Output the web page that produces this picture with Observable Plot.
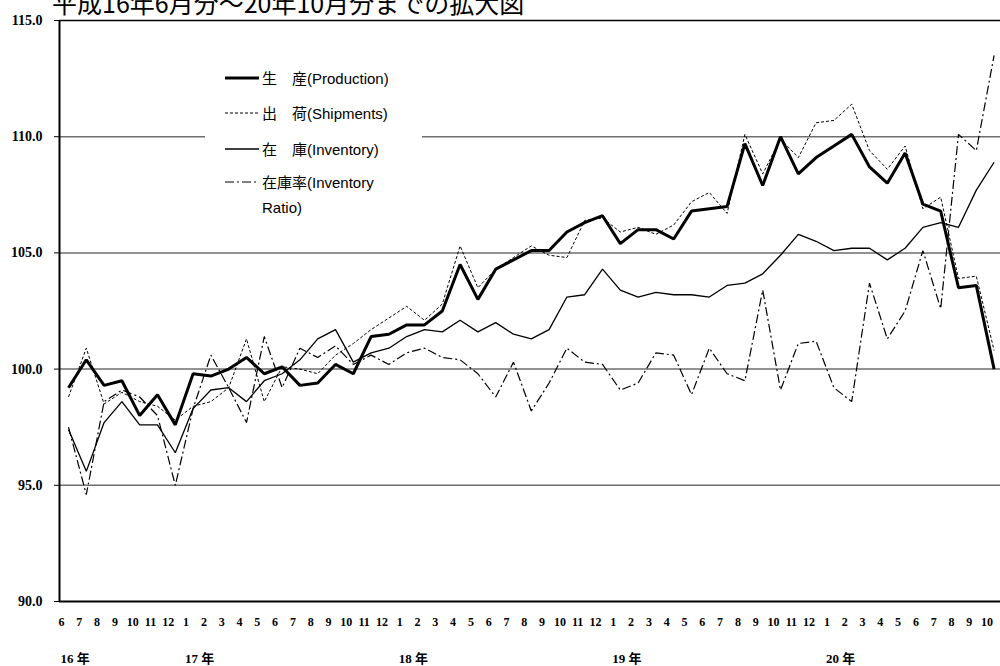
<!DOCTYPE html>
<html><head><meta charset="utf-8">
<script src="https://cdn.jsdelivr.net/npm/d3@7"></script>
<script src="https://cdn.jsdelivr.net/npm/@observablehq/plot@0.6"></script>
<style>
html,body{margin:0;padding:0;background:#fff;overflow:hidden;}
#wrap{position:relative;width:1000px;height:666px;}
#title{position:absolute;left:52px;top:-10px;font-family:"Noto Sans CJK JP";font-size:25px;line-height:1;white-space:nowrap;color:#000;z-index:2;}
</style></head><body>
<div id="wrap"><div id="title"></div></div>
<script>
const titleText = "平成16年6月分～20年10月分までの拡大図";
const yearLabels = ["16 年", "17 年", "18 年", "19 年", "20 年"];
const monthLabels = [6,7,8,9,10,11,12,
  1,2,3,4,5,6,7,8,9,10,11,12,
  1,2,3,4,5,6,7,8,9,10,11,12,
  1,2,3,4,5,6,7,8,9,10,11,12,
  1,2,3,4,5,6,7,8,9,10];
const yTicks = [90, 95, 100, 105, 110, 115];
const gridValues = [95, 100, 105, 110];

const production = [99.2,100.4,99.3,99.5,98.0,98.9,97.6,
  99.8,99.7,100.0,100.5,99.8,100.1,99.3,99.4,100.2,99.8,101.4,101.5,
  101.9,101.9,102.5,104.5,103.0,104.3,104.7,105.1,105.1,105.9,106.3,106.6,
  105.4,106.0,106.0,105.6,106.8,106.9,107.0,109.7,107.9,110.0,108.4,109.1,
  109.6,110.1,108.7,108.0,109.3,107.1,106.8,103.5,103.6,100.0];
const shipments = [98.8,100.9,98.5,99.0,98.6,98.4,97.8,
  98.4,98.6,99.2,101.3,98.6,100.1,100.0,99.8,100.6,101.1,101.7,102.2,
  102.7,102.1,102.8,105.3,103.5,104.3,104.8,105.3,104.9,104.8,106.4,106.5,
  105.9,106.1,105.8,106.2,107.2,107.6,106.7,110.1,108.4,109.9,109.1,110.6,
  110.7,111.4,109.4,108.6,109.6,106.9,107.4,103.9,104.0,100.8];
const inventory = [97.4,95.6,97.7,98.6,97.6,97.6,96.4,
  98.3,99.1,99.2,98.6,99.5,99.8,100.4,101.3,101.7,100.3,100.7,100.9,
  101.4,101.7,101.6,102.1,101.6,102.0,101.5,101.3,101.7,103.1,103.2,104.3,
  103.4,103.1,103.3,103.2,103.2,103.1,103.6,103.7,104.1,104.9,105.8,105.5,
  105.1,105.2,105.2,104.7,105.2,106.1,106.3,106.1,107.7,108.9];
const inventoryRatio = [97.5,94.6,98.6,99.1,98.8,98.0,95.0,
  98.3,100.6,99.2,97.7,101.4,99.2,100.9,100.5,101.0,100.2,100.6,100.2,
  100.7,100.9,100.5,100.4,99.8,98.8,100.3,98.2,99.4,100.9,100.3,100.2,
  99.1,99.4,100.7,100.6,98.9,100.9,99.8,99.5,103.4,99.1,101.1,101.2,
  99.2,98.6,103.7,101.3,102.5,105.1,102.6,110.1,109.4,113.5];

const seriesNames = ["生　産(Production)", "出　荷(Shipments)", "在　庫(Inventory)", "在庫率(Inventory Ratio)"];
const legendLines = [["生　産(Production)"], ["出　荷(Shipments)"], ["在　庫(Inventory)"], ["在庫率(Inventory", "Ratio)"]];
const seriesValues = [production, shipments, inventory, inventoryRatio];

// styles (kept separate from data)
const styles = [
  {strokeWidth: 3, dash: null},
  {strokeWidth: 1, dash: "3,2"},
  {strokeWidth: 1.3, dash: null},
  {strokeWidth: 1.2, dash: "9,3,2,3"}
];

document.getElementById("title").textContent = titleText;

let yi = 0;
const keys = monthLabels.map((m, i) => { if (i > 0 && m === 1) yi++; return yi + "-" + m; });
const monthOf = Object.fromEntries(keys.map((k, i) => [k, String(monthLabels[i])]));
const yearRows = [];
keys.forEach((k, i) => { if (i === 0 || monthLabels[i] === 1) yearRows.push({key: k, label: yearLabels[yearRows.length]}); });

const rows = [];
seriesNames.forEach((s, si) => seriesValues[si].forEach((v, i) => rows.push({series: s, key: keys[i], value: v})));

const serif = "'Liberation Serif', 'Noto Sans CJK JP', serif";
const sans = "'Liberation Sans', 'Noto Sans CJK JP', sans-serif";

function legendMark() {
  const g = d3.create("svg:g");
  g.append("rect").attr("x", 205).attr("y", 58).attr("width", 217).attr("height", 162).attr("fill", "#fff");
  const ys = [78, 113, 149, 182];
  legendLines.forEach((lines, i) => {
    const st = styles[i];
    g.append("line").attr("x1", 225).attr("x2", 259).attr("y1", ys[i]).attr("y2", ys[i])
      .attr("stroke", "#000").attr("stroke-width", st.strokeWidth)
      .attr("stroke-dasharray", st.dash);
    lines.forEach((t, j) => {
      g.append("text").attr("x", 262).attr("y", ys[i] + j * 25)
        .attr("text-anchor", "start")
        .attr("dominant-baseline", "central")
        .attr("font-family", sans).attr("font-size", 15).attr("fill", "#000").text(t);
    });
  });
  return g.node();
}

const lineMarks = seriesNames.map((s, si) => Plot.line(rows.filter(r => r.series === s), {
  x: "key", y: "value", stroke: "#000", strokeWidth: styles[si].strokeWidth,
  strokeDasharray: styles[si].dash || undefined, strokeLinejoin: "miter", strokeLinecap: "butt"
}));

const chart = Plot.plot({
  width: 1000, height: 666,
  marginTop: 20, marginLeft: 59, marginRight: 0, marginBottom: 65,
  x: {type: "point", domain: keys, range: [68, 993.6], padding: 0},
  y: {domain: [90, 115]},
  marks: [
    Plot.ruleY(gridValues, {stroke: "#6e6e6e", strokeWidth: 1.5}),
    legendMark,
    Plot.ruleY([115], {stroke: "#000", strokeWidth: 1.5}),
    Plot.ruleY([90], {stroke: "#000", strokeWidth: 2}),
    Plot.ruleX([keys[0]], {dx: -9, stroke: "#000", strokeWidth: 2}),
    Plot.axisY({ticks: yTicks, tickFormat: d => d.toFixed(1), tickSize: 5, tickPadding: 12,
      fontSize: 14, fontWeight: "bold", fontFamily: serif, label: null}),
    Plot.axisX({tickSize: 0, tickPadding: 16, tickFormat: k => monthOf[k], textAnchor: "middle", dx: -7,
      fontSize: 12, fontWeight: "bold", fontFamily: serif, label: null}),
    Plot.text(yearRows, {x: "key", text: "label", frameAnchor: "bottom", dy: 57, textAnchor: "start", dx: -8,
      lineAnchor: "middle", fontSize: 13, fontWeight: "bold", fontFamily: serif}),
    ...lineMarks
  ]
});
document.getElementById("wrap").appendChild(chart);
</script>
</body></html>
